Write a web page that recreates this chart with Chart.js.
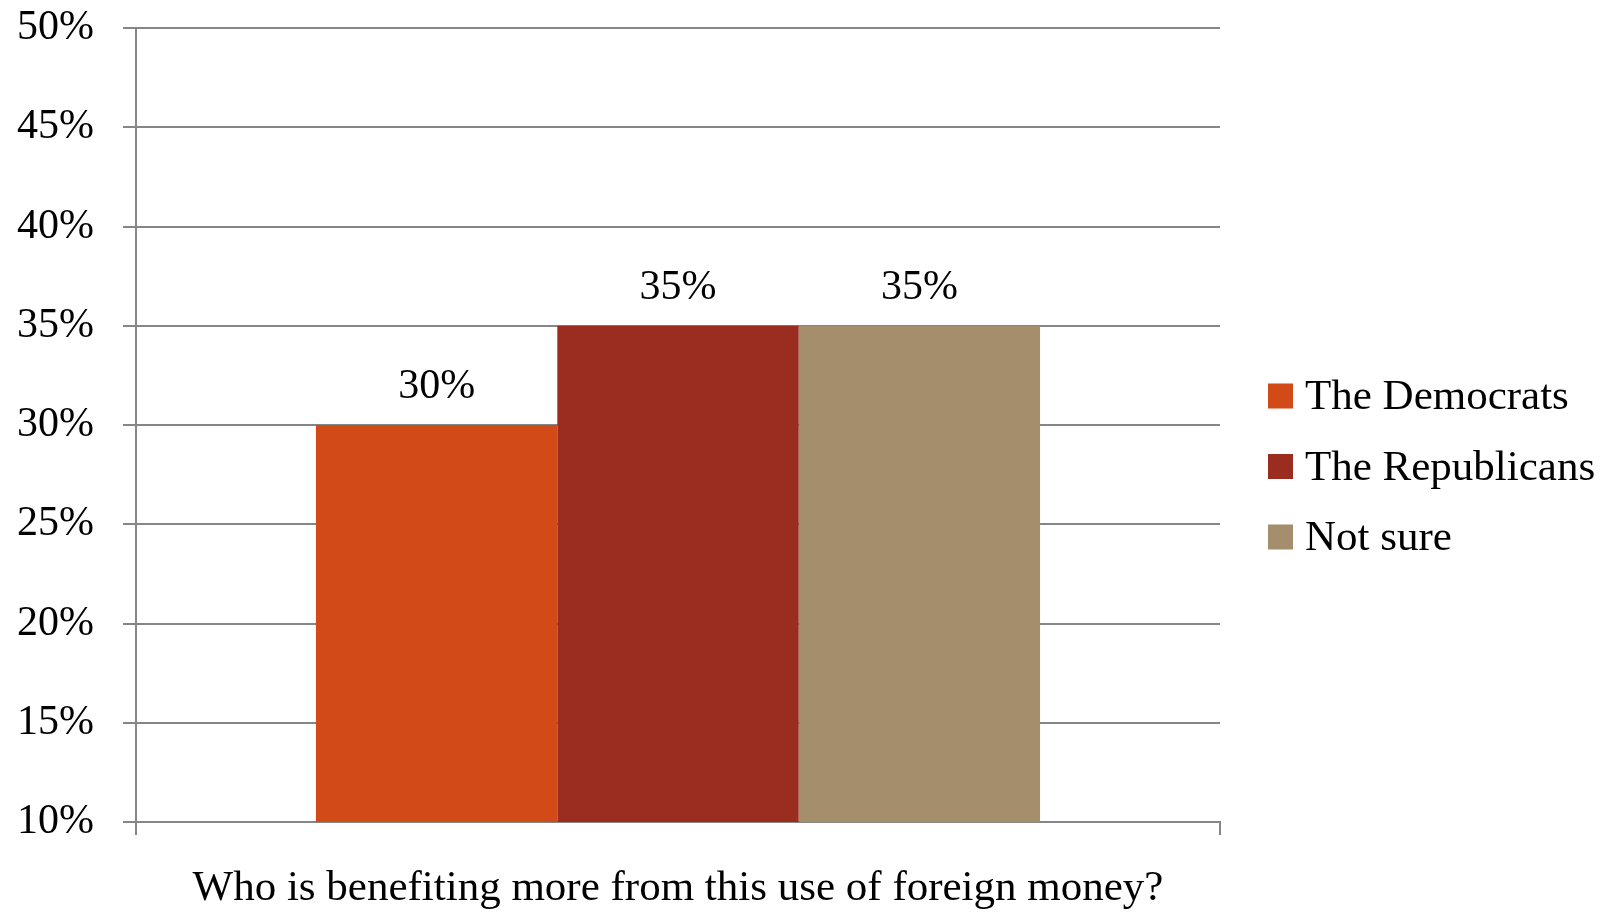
<!DOCTYPE html>
<html>
<head>
<meta charset="utf-8">
<script src="https://cdn.jsdelivr.net/npm/chart.js@4/dist/chart.umd.min.js"></script>
<style>
    html, body { margin: 0; padding: 0; background: #fff; }
    #wrap { width: 1610px; height: 916px; }
</style>
</head>
<body>
<div id="wrap"><canvas id="chart" width="1610" height="916"></canvas></div>
<script>
const categories = ['Who is benefiting more from this use of foreign money?'];
const seriesNames = ['The Democrats', 'The Republicans', 'Not sure'];
const democrats = [30];
const republicans = [35];
const notSure = [35];
const seriesColors = ['#D24A18', '#9A2C20', '#A48E6C'];
const yTicks = [10, 15, 20, 25, 30, 35, 40, 45, 50];

const FONT = '"Liberation Serif", "Times New Roman", serif';
const GRID = '#868686';

// draws the value above each bar
const valueLabels = {
    id: 'valueLabels',
    afterDatasetsDraw(chart) {
        const ctx = chart.ctx;
        ctx.save();
        ctx.font = '42px ' + FONT;
        ctx.fillStyle = '#000';
        ctx.textAlign = 'center';
        ctx.textBaseline = 'alphabetic';
        chart.data.datasets.forEach((ds, i) => {
            const meta = chart.getDatasetMeta(i);
            meta.data.forEach((bar, j) => {
                ctx.fillText(ds.data[j] + '%', bar.x, bar.y - 27);
            });
        });
        ctx.restore();
    }
};

// legend on the right, drawn from the datasets
const sideLegend = {
    id: 'sideLegend',
    afterDraw(chart) {
        const ctx = chart.ctx;
        const x = chart.chartArea.right + 48;
        const startY = 396;
        const step = 70.5;
        ctx.save();
        ctx.font = '43px ' + FONT;
        ctx.textAlign = 'left';
        ctx.textBaseline = 'middle';
        chart.data.datasets.forEach((ds, i) => {
            const cy = startY + i * step;
            ctx.fillStyle = ds.backgroundColor;
            ctx.fillRect(x, cy - 12.5, 25, 25);
            ctx.fillStyle = '#000';
            ctx.fillText(ds.label, x + 37, cy + 2);
        });
        ctx.restore();
    }
};

const values = [democrats, republicans, notSure];

new Chart(document.getElementById('chart'), {
    type: 'bar',
    data: {
        labels: categories,
        datasets: seriesNames.map((name, i) => ({
            label: name,
            data: values[i],
            backgroundColor: seriesColors[i],
            borderWidth: 0,
            barPercentage: 1,
            categoryPercentage: 0.668
        }))
    },
    options: {
        responsive: false,
        animation: false,
        layout: { padding: { top: 28, right: 390, bottom: 0, left: 0 } },
        plugins: {
            legend: { display: false },
            tooltip: { enabled: false }
        },
        scales: {
            y: {
                min: 10,
                max: 50,
                afterBuildTicks(scale) {
                    scale.ticks = yTicks.map(v => ({ value: v }));
                },
                afterFit(scale) {
                    scale.width = 136;
                    scale.paddingTop = 0;
                    scale.paddingBottom = 0;
                },
                ticks: {
                    callback: v => v + '%',
                    font: { family: FONT, size: 42 },
                    color: '#000',
                    padding: 29
                },
                grid: { color: GRID, lineWidth: 2, tickLength: 13 },
                border: { color: GRID, width: 2 }
            },
            x: {
                afterFit(scale) {
                    scale.height = 94;
                    scale.paddingLeft = 0;
                    scale.paddingRight = 0;
                },
                ticks: {
                    font: { family: FONT, size: 43 },
                    color: '#000',
                    padding: 28
                },
                grid: {
                    color: GRID,
                    lineWidth: 2,
                    drawOnChartArea: false,
                    tickLength: 13,
                    offset: true
                },
                border: { color: GRID, width: 2 }
            }
        }
    },
    plugins: [valueLabels, sideLegend]
});
</script>
</body>
</html>
